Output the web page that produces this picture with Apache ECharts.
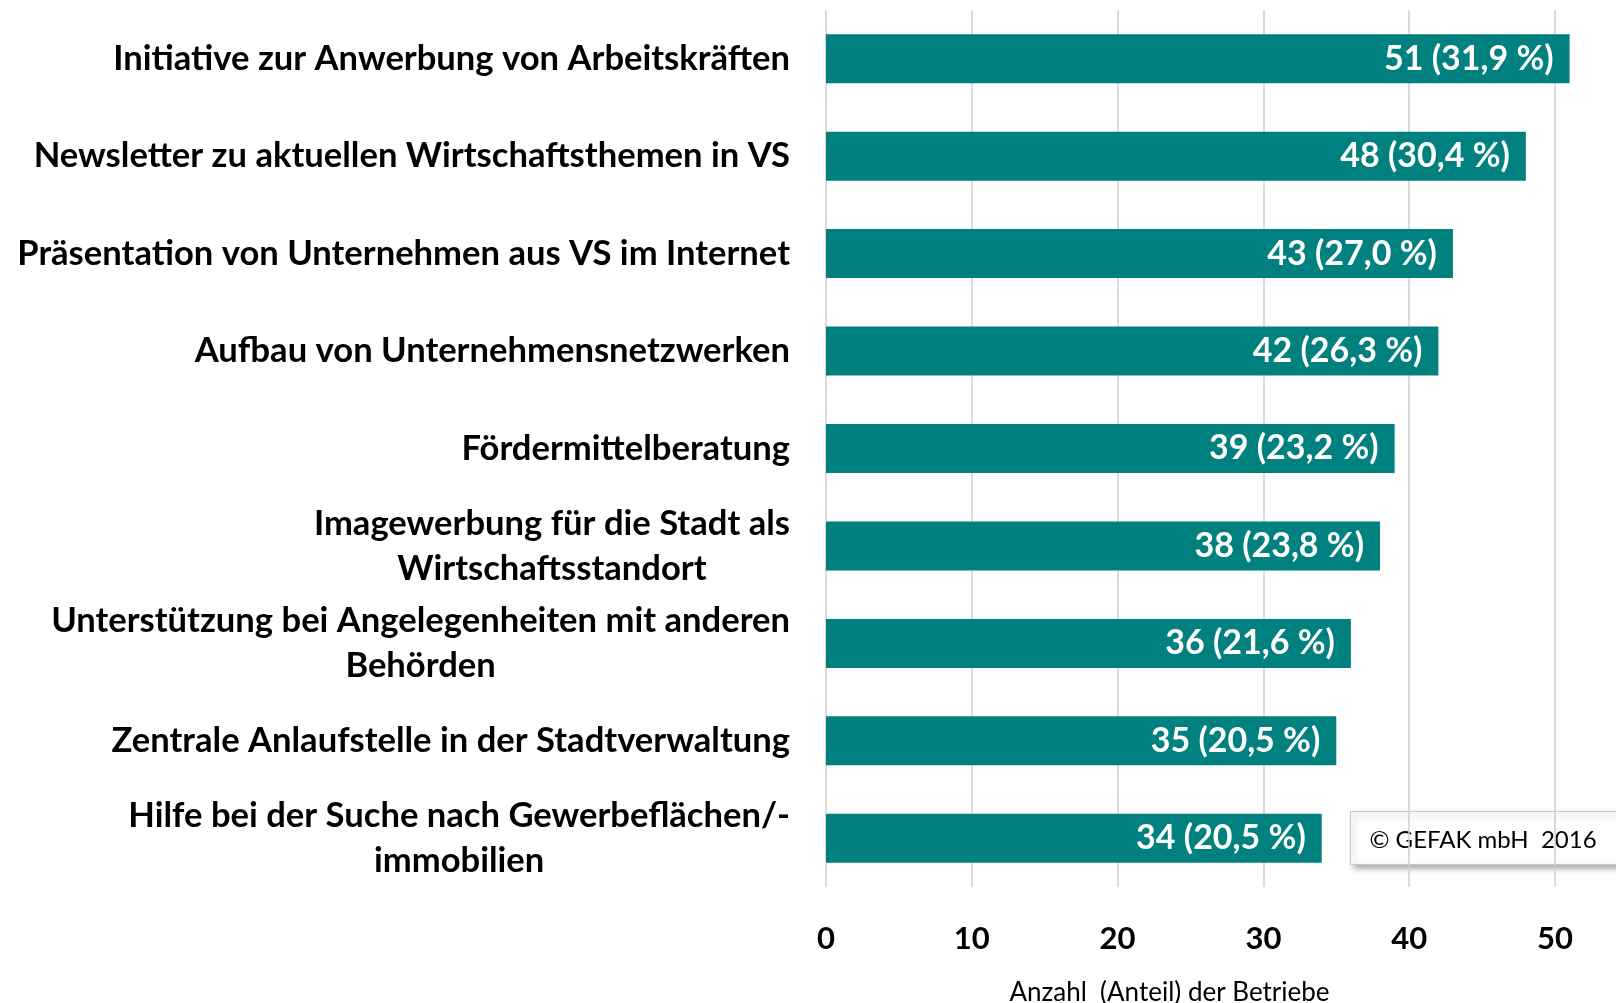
<!DOCTYPE html>
<html>
<head>
<meta charset="utf-8">
<script src="https://cdn.jsdelivr.net/npm/echarts@6/dist/echarts.min.js"></script>
<style>
html,body{margin:0;padding:0;background:#fff;}
#chart{width:1616px;height:1003px;}
</style>
</head>
<body>
<div id="chart"></div>
<script>
const categories = [
  "Initiative zur Anwerbung von Arbeitskräften",
  "Newsletter zu aktuellen Wirtschaftsthemen in VS",
  "Präsentation von Unternehmen aus VS im Internet",
  "Aufbau von Unternehmensnetzwerken",
  "Fördermittelberatung",
  "Imagewerbung für die Stadt als\nWirtschaftsstandort",
  "Unterstützung bei Angelegenheiten mit anderen\nBehörden",
  "Zentrale Anlaufstelle in der Stadtverwaltung",
  "Hilfe bei der Suche nach Gewerbeflächen/-\nimmobilien"
];
const counts = [51, 48, 43, 42, 39, 38, 36, 35, 34];
const shares = ["31,9", "30,4", "27,0", "26,3", "23,2", "23,8", "21,6", "20,5", "20,5"];
const xTicks = [0, 10, 20, 30, 40, 50];
const axisTitle = "Anzahl  (Anteil) der Betriebe";
const copyright = "© GEFAK mbH  2016";

const FONT = "Lato";
const chart = echarts.init(document.getElementById('chart'), null, {renderer: 'canvas'});
chart.setOption({
  backgroundColor: '#ffffff',
  animation: false,
  grid: {left: 826, width: 729, top: 10, height: 877, containLabel: false, outerBoundsMode: 'none'},
  xAxis: {
    type: 'value',
    min: xTicks[0],
    max: xTicks[xTicks.length - 1],
    interval: xTicks[1] - xTicks[0],
    axisLine: {show: false},
    axisTick: {show: false},
    splitLine: {show: true, lineStyle: {color: '#cfcfcf', width: 1.5}},
    axisLabel: {
      margin: 36,
      fontFamily: FONT, fontWeight: 'bold', fontSize: 31, color: '#000'
    },
    name: axisTitle,
    nameLocation: 'middle',
    nameGap: 93,
    nameTextStyle: {fontFamily: FONT, fontSize: 26, color: '#000', padding: [0, 42, 0, 0]}
  },
  yAxis: {
    type: 'category',
    data: categories,
    inverse: true,
    axisLine: {show: false},
    axisTick: {show: false},
    splitLine: {show: false},
    axisLabel: {
      margin: 36,
      align: 'right',
      fontFamily: FONT, fontWeight: 'bold', fontSize: 34.6, color: '#000',
      lineHeight: 45,
      formatter: v => v.split('\n').map(s => '{c|' + s + '}').join('\n'),
      rich: {c: {align: 'center', fontFamily: FONT, fontWeight: 'bold', fontSize: 34.6, color: '#000', lineHeight: 45}}
    }
  },
  series: [{
    type: 'bar',
    data: counts,
    barWidth: 49,
    clip: false,
    itemStyle: {color: '#00807f'},
    label: {
      show: true,
      position: 'insideRight',
      distance: 16,
      fontFamily: FONT, fontWeight: 'bold', fontSize: 34, color: '#fff',
      formatter: p => counts[p.dataIndex] + ' (' + shares[p.dataIndex] + ' %)'
    }
  }],
  graphic: [{
    type: 'group',
    left: 1350, top: 811,
    children: [{
      type: 'rect',
      shape: {x: 0, y: 0, width: 290, height: 53},
      style: {fill: '#fff', stroke: '#c8c8c8', lineWidth: 1, shadowBlur: 6, shadowOffsetX: 3, shadowOffsetY: 3, shadowColor: 'rgba(0,0,0,0.35)'}
    }, {
      type: 'text',
      x: 19, y: 29,
      style: {text: copyright, fontFamily: FONT, fontSize: 24, fill: '#000', verticalAlign: 'middle', align: 'left'}
    }]
  }]
});
</script>
</body>
</html>
